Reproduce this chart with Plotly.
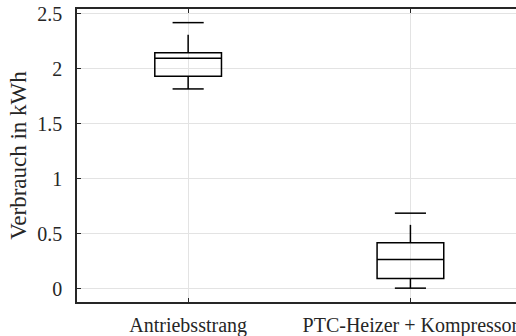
import plotly.graph_objects as go

categories = ["Antriebsstrang", "PTC-Heizer + Kompressor"]
q1 = [1.933, 0.094]
median = [2.097, 0.267]
q3 = [2.148, 0.418]
lower_whisker = [1.818, 0.006]
upper_whisker = [2.421, 0.688]

y_tickvals = [0, 0.5, 1, 1.5, 2, 2.5]
y_ticktext = ["0", "0.5", "1", "1.5", "2", "2.5"]

BOX_HALF = 0.15
CAP_HALF = 0.07
FONT = "'Liberation Serif', 'Times New Roman', Times, serif"
AX = "#262626"

fig = go.Figure()
pos = [1, 2]
for i, c in enumerate(categories):
    x = pos[i]
    fig.add_trace(go.Box(
        x=[x], q1=[q1[i]], median=[median[i]], q3=[q3[i]],
        lowerfence=[q1[i]], upperfence=[q3[i]],
        width=2 * BOX_HALF, whiskerwidth=0,
        line=dict(color="black", width=1.5), fillcolor="rgba(0,0,0,0)",
        boxpoints=False, hoverinfo="skip", showlegend=False,
    ))
    fig.add_trace(go.Scatter(
        x=[x, x], y=[q3[i], upper_whisker[i]], mode="lines",
        line=dict(color="black", width=1.5, dash="18px,12px"),
        showlegend=False, hoverinfo="skip"))
    fig.add_trace(go.Scatter(
        x=[x, x], y=[q1[i], lower_whisker[i]], mode="lines",
        line=dict(color="black", width=1.5, dash="18px,12px"),
        showlegend=False, hoverinfo="skip"))
    for v in (upper_whisker[i], lower_whisker[i]):
        fig.add_trace(go.Scatter(
            x=[x - CAP_HALF, x + CAP_HALF], y=[v, v], mode="lines",
            line=dict(color="black", width=1.5),
            showlegend=False, hoverinfo="skip"))

fig.update_layout(
    width=516, height=336,
    margin=dict(l=77, r=0, t=9, b=34, autoexpand=False),
    paper_bgcolor="white", plot_bgcolor="white",
    font=dict(family=FONT, size=20, color=AX),
    showlegend=False,
)
fig.update_xaxes(
    type="linear", range=[0.5, 2.475],
    tickvals=pos, ticktext=categories,
    ticks="inside", ticklen=4, tickcolor=AX, tickwidth=1,
    showline=True, linecolor=AX, linewidth=1.5, mirror="ticks",
    showgrid=True, gridcolor="#e3e3e3", gridwidth=1,
    zeroline=False, ticklabelstandoff=4, automargin=False,
    ticklabeloverflow="allow",
    tickfont=dict(family=FONT, size=20, color=AX),
)
fig.update_yaxes(
    range=[-0.12, 2.545],
    tickvals=y_tickvals, ticktext=y_ticktext,
    ticks="inside", ticklen=4, tickcolor=AX, tickwidth=1,
    showline=True, linecolor=AX, linewidth=1.5, mirror=False,
    showgrid=True, gridcolor="#e3e3e3", gridwidth=1,
    zeroline=False, ticklabelstandoff=9, automargin=False,
    tickfont=dict(family=FONT, size=20, color=AX),
    title=dict(text="Verbrauch in kWh", font=dict(family=FONT, size=23, color=AX), standoff=4),
)
fig.write_html("out.html", config={"displayModeBar": False},
               post_script="document.body.style.margin='0';document.body.style.overflow='hidden';")
